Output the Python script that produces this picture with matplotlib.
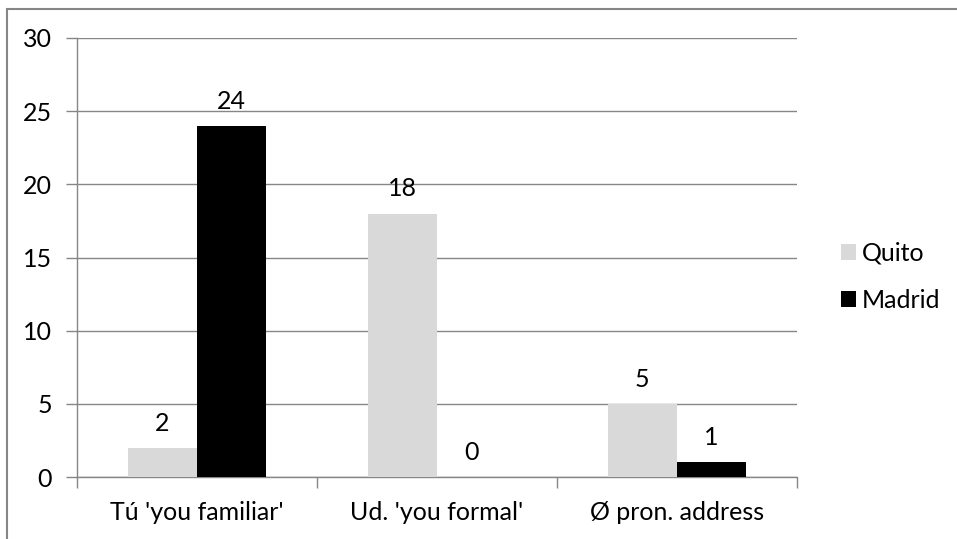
import matplotlib.pyplot as plt
import numpy as np
from matplotlib.patches import Rectangle

plt.rcParams['font.family'] = ['Lato', 'DejaVu Sans']

# 呼びかけ形式ごとの回答数
categories = ["Tú 'you familiar'", "Ud. 'you formal'", "Ø pron. address"]
quito = [2, 18, 5]
madrid = [24, 0, 1]
series_names = ['Quito', 'Madrid']

grid_col = '#868686'
fs = 18

fig = plt.figure(figsize=(9.57, 5.39), dpi=100)
ax = fig.add_axes([0.0805, 0.115, 0.752, 0.8145])

x = np.arange(len(categories))
w = 0.2875
b1 = ax.bar(x - w / 2, quito, w, color='#d9d9d9', label=series_names[0], zorder=3)
b2 = ax.bar(x + w / 2, madrid, w, color='#000000', label=series_names[1], zorder=3)

# 値ラベル
for bars, vals in ((b1, quito), (b2, madrid)):
    for r, v in zip(bars, vals):
        ax.text(r.get_x() + r.get_width() / 2, v + 0.9, str(v),
                ha='center', va='bottom', fontsize=fs)

ax.set_xlim(-0.5, len(categories) - 0.5)
ax.set_ylim(0, 30)
ax.set_yticks(range(0, 31, 5))
ax.yaxis.grid(True, color=grid_col, lw=1, zorder=0)

# カテゴリ境界に目盛り
ax.set_xticks(np.arange(-0.5, len(categories), 1))
ax.set_xticklabels([])
ax.set_xticks(x, minor=True)
ax.set_xticklabels(categories, minor=True, fontsize=fs)
ax.tick_params(axis='x', which='minor', length=0, pad=17)
ax.tick_params(axis='x', which='major', length=8, color=grid_col, width=1)
ax.tick_params(axis='y', length=8, color=grid_col, width=1, labelsize=fs, pad=10)

for s in ('top', 'right'):
    ax.spines[s].set_visible(False)
for s in ('left', 'bottom'):
    ax.spines[s].set_color(grid_col)
    ax.spines[s].set_linewidth(1)

ax.legend(loc='center left', bbox_to_anchor=(1.047, 0.456), frameon=False,
          borderaxespad=0, fontsize=fs, handlelength=0.6, handleheight=0.6,
          handletextpad=0.25, labelspacing=0.95)

# 外枠
fig.add_artist(Rectangle((7 / 957, -0.1), 1.1, 1 - 9 / 539 + 0.1,
                         transform=fig.transFigure, fill=False,
                         edgecolor=grid_col, lw=1.5, clip_on=False))

fig.savefig('out.png', dpi=100)
